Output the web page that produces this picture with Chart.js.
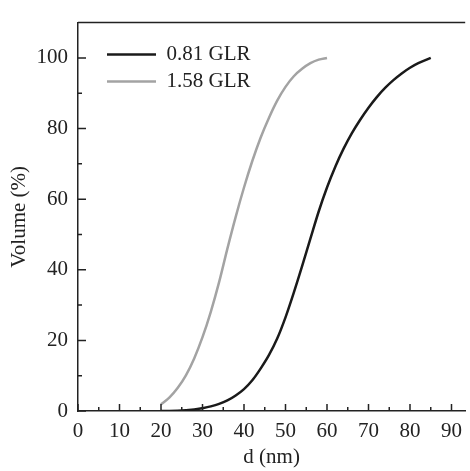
<!DOCTYPE html>
<html>
<head>
<meta charset="utf-8">
<script src="https://cdn.jsdelivr.net/npm/chart.js@4"></script>
<style>
  html, body { margin: 0; padding: 0; background: #fff; }
  #wrap { width: 470px; height: 471px; }
</style>
</head>
<body>
<div id="wrap"><canvas id="sizeChart" width="470" height="471"></canvas></div>
<script>
// cumulative volume curves
const d081 = [20, 24, 28, 30, 32, 34, 36, 38, 40, 42, 44, 46, 48, 50, 52, 54, 56, 58, 60, 62, 64, 66, 68, 70, 72, 74, 76, 78, 80, 82, 85];
const vol081 = [0, 0.05, 0.4, 0.8, 1.3, 2, 3, 4.4, 6.2, 8.7, 12, 15.8, 20.5, 26.5, 33.5, 41, 48.8, 56.5, 63.3, 69.2, 74.3, 78.7, 82.5, 85.9, 88.9, 91.5, 93.7, 95.6, 97.2, 98.5, 100];

const d158 = [20, 22, 24, 26, 28, 30, 32, 34, 36, 38, 40, 42, 44, 46, 48, 50, 52, 54, 56, 58, 60];
const vol158 = [1.9, 3.8, 6.5, 10.1, 14.9, 20.9, 28.1, 36.5, 46, 55, 63.3, 70.8, 77.4, 83, 87.9, 91.8, 94.8, 96.9, 98.5, 99.5, 100];

const seriesLabels = ['0.81 GLR', '1.58 GLR'];
const xTicks = [0, 10, 20, 30, 40, 50, 60, 70, 80, 90];
const yTicks = [0, 20, 40, 60, 80, 100];

const FONT = "'Liberation Serif', 'Times New Roman', serif";
const INK = '#222';

function toPoints(xs, ys) {
    return xs.map((x, i) => ({ x: x, y: ys[i] }));
}

// inward major/minor ticks + top frame line
const frameTicks = {
    id: 'frameTicks',
    afterLayout(chart) {
        // nudge the legend into the upper left of the plot
        chart.legend.left += 23;
        chart.legend.top += 38;
    },
    afterDraw(chart) {
        const ctx = chart.ctx;
        const area = chart.chartArea;
        const xs = chart.scales.x;
        const ys = chart.scales.y;
        ctx.save();
        ctx.strokeStyle = INK;
        ctx.lineWidth = 1.5;
        ctx.beginPath();
        ctx.moveTo(area.left, area.top);
        ctx.lineTo(area.right, area.top);
        for (let v = 0; v <= 90; v += 5) {
            const px = xs.getPixelForValue(v);
            const len = v % 10 === 0 ? 7 : 4;
            ctx.moveTo(px, area.bottom);
            ctx.lineTo(px, area.bottom - len);
        }
        for (let v = 0; v <= 100; v += 10) {
            const py = ys.getPixelForValue(v);
            const len = v % 20 === 0 ? 8 : 4;
            ctx.moveTo(area.left, py);
            ctx.lineTo(area.left + len, py);
        }
        ctx.stroke();
        ctx.restore();
    }
};

const ctx = document.getElementById('sizeChart').getContext('2d');
const chart = new Chart(ctx, {
    type: 'line',
    data: {
        datasets: [{
            label: seriesLabels[0],
            data: toPoints(d081, vol081),
            borderColor: '#1a1a1a',
            borderWidth: 2.5,
            pointRadius: 0,
            pointStyle: 'line',
            cubicInterpolationMode: 'monotone',
            fill: false
        }, {
            label: seriesLabels[1],
            data: toPoints(d158, vol158),
            borderColor: '#a3a3a3',
            borderWidth: 2.5,
            pointRadius: 0,
            pointStyle: 'line',
            cubicInterpolationMode: 'monotone',
            fill: false
        }]
    },
    options: {
        responsive: false,
        animation: false,
        layout: { padding: { top: 11, right: 0, left: 0, bottom: 0 } },
        plugins: {
            legend: {
                position: 'chartArea',
                align: 'start',
                labels: {
                    usePointStyle: true,
                    pointStyleWidth: 49,
                    boxHeight: 21,
                    padding: 6,
                    color: INK,
                    font: { family: FONT, size: 21 }
                }
            },
            tooltip: { enabled: false }
        },
        scales: {
            x: {
                type: 'linear',
                min: 0,
                max: 93.3,
                afterFit(scale) { scale.height = 60; },
                afterBuildTicks(scale) { scale.ticks = xTicks.map(v => ({ value: v })); },
                ticks: {
                    includeBounds: false,
                    maxRotation: 0,
                    autoSkip: false,
                    padding: 8,
                    color: INK,
                    font: { family: FONT, size: 21 }
                },
                grid: { display: false, drawTicks: false },
                border: { display: true, color: INK, width: 1.5 },
                title: {
                    display: true,
                    text: 'd (nm)',
                    color: INK,
                    padding: { top: 0, bottom: 1 },
                    font: { family: FONT, size: 21 }
                }
            },
            y: {
                min: 0,
                max: 110,
                afterFit(scale) { scale.width = 78; },
                afterBuildTicks(scale) { scale.ticks = yTicks.map(v => ({ value: v })); },
                ticks: {
                    includeBounds: false,
                    padding: 10,
                    color: INK,
                    font: { family: FONT, size: 21 }
                },
                grid: { display: false, drawTicks: false },
                border: { display: true, color: INK, width: 1.5 },
                title: {
                    display: true,
                    text: 'Volume (%)',
                    color: INK,
                    padding: { top: 7, bottom: 0 },
                    font: { family: FONT, size: 21 }
                }
            }
        }
    },
    plugins: [frameTicks]
});
</script>
</body>
</html>
